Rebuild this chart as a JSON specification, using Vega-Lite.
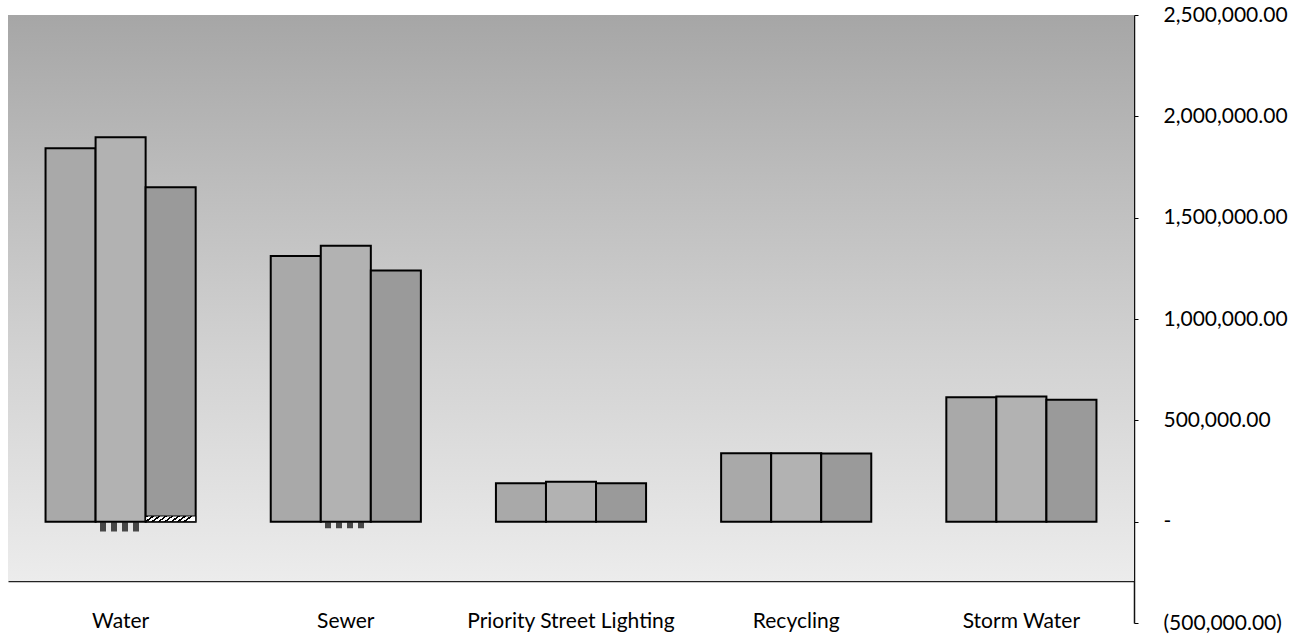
{
  "$schema": "https://vega.github.io/schema/vega-lite/v6.json",
  "autosize": {"type": "none"},
  "width": 1126,
  "height": 608,
  "padding": {"left": 8, "top": 15, "right": 164, "bottom": 12},
  "background": "#ffffff",
  "config": {
    "view": {"stroke": null},
    "font": "Lato",
    "axis": {"labelFont": "Lato", "labelColor": "#000000", "labelFontSize": 21, "labelLimit": 0, "grid": false, "title": null}
  },
  "datasets": {
    "bars": [
      {"category": "Water", "series": "A", "amount": 1843000},
      {"category": "Water", "series": "B", "amount": 1897000},
      {"category": "Water", "series": "C", "amount": 1650000},
      {"category": "Sewer", "series": "A", "amount": 1311000},
      {"category": "Sewer", "series": "B", "amount": 1362000},
      {"category": "Sewer", "series": "C", "amount": 1239000},
      {"category": "Priority Street Lighting", "series": "A", "amount": 189500},
      {"category": "Priority Street Lighting", "series": "B", "amount": 197000},
      {"category": "Priority Street Lighting", "series": "C", "amount": 189500},
      {"category": "Recycling", "series": "A", "amount": 338000},
      {"category": "Recycling", "series": "B", "amount": 338000},
      {"category": "Recycling", "series": "C", "amount": 336000},
      {"category": "Storm Water", "series": "A", "amount": 614000},
      {"category": "Storm Water", "series": "B", "amount": 617000},
      {"category": "Storm Water", "series": "C", "amount": 601000}
    ],
    "hatched": [
      {"category": "Water", "series": "C", "low": 0, "high": 28000}
    ],
    "negatives": [
      {"category": "Water", "series": "B", "low": -48000, "high": 0},
      {"category": "Sewer", "series": "B", "low": -32000, "high": 0}
    ],
    "band": [
      {"top": 2500000, "bottom": -293000}
    ]
  },
  "layer": [
    {
      "data": {"name": "band"},
      "mark": {
        "type": "rect",
        "color": {
          "gradient": "linear", "x1": 0, "y1": 0, "x2": 0, "y2": 1,
          "stops": [
            {"offset": 0, "color": "#a6a6a6"},
            {"offset": 0.3, "color": "#bdbdbd"},
            {"offset": 0.6, "color": "#d2d2d2"},
            {"offset": 0.85, "color": "#e2e2e2"},
            {"offset": 1, "color": "#ececec"}
          ]
        }
      },
      "encoding": {
        "y": {"field": "top", "type": "quantitative", "scale": {"domain": [-500000, 2500000], "nice": false, "zero": false}},
        "y2": {"field": "bottom"}
      }
    },
    {
      "data": {"name": "bars"},
      "mark": {"type": "bar", "stroke": "#000000", "strokeWidth": 2},
      "encoding": {
        "x": {
          "field": "category", "type": "nominal", "sort": null,
          "scale": {"paddingInner": 0.3333, "paddingOuter": 0.1667},
          "axis": {"orient": "bottom", "offset": -42, "ticks": false, "tickSize": 0, "labelPadding": 29, "labelAngle": 0, "domainColor": "#222222", "domainWidth": 1.5}
        },
        "xOffset": {"field": "series", "type": "nominal", "scale": {"paddingInner": 0, "paddingOuter": 0}},
        "y": {
          "field": "amount", "type": "quantitative",
          "scale": {"domain": [-500000, 2500000], "nice": false, "zero": false},
          "axis": {
            "orient": "right",
            "values": [-500000, 0, 500000, 1000000, 1500000, 2000000, 2500000],
            "labelExpr": "datum.value == 0 ? '-' : (datum.value < 0 ? '(' + format(-datum.value, ',.2f') + ')' : format(datum.value, ',.2f'))",
            "labelAlign": "left",
            "labelBaseline": "middle",
            "labelPadding": 25,
            "tickSize": 4,
            "tickColor": "#000000",
            "tickWidth": 1,
            "domainColor": "#111111",
            "domainWidth": 1.5
          }
        },
        "color": {"field": "series", "type": "nominal", "scale": {"domain": ["A", "B", "C"], "range": ["#a9a9a9", "#b2b2b2", "#9a9a9a"]}, "legend": null}
      }
    },
    {
      "data": {"name": "hatched"},
      "mark": {
        "type": "bar", "stroke": "#000000", "strokeWidth": 1,
        "color": {
          "gradient": "linear", "x1": 0, "y1": 0, "x2": 1, "y2": 0.15,
          "stops": [
            {"offset": 0, "color": "#000000"}, {"offset": 0.05, "color": "#000000"}, {"offset": 0.05, "color": "#ffffff"}, {"offset": 0.125, "color": "#ffffff"},
            {"offset": 0.125, "color": "#000000"}, {"offset": 0.175, "color": "#000000"}, {"offset": 0.175, "color": "#ffffff"}, {"offset": 0.25, "color": "#ffffff"},
            {"offset": 0.25, "color": "#000000"}, {"offset": 0.3, "color": "#000000"}, {"offset": 0.3, "color": "#ffffff"}, {"offset": 0.375, "color": "#ffffff"},
            {"offset": 0.375, "color": "#000000"}, {"offset": 0.425, "color": "#000000"}, {"offset": 0.425, "color": "#ffffff"}, {"offset": 0.5, "color": "#ffffff"},
            {"offset": 0.5, "color": "#000000"}, {"offset": 0.55, "color": "#000000"}, {"offset": 0.55, "color": "#ffffff"}, {"offset": 0.625, "color": "#ffffff"},
            {"offset": 0.625, "color": "#000000"}, {"offset": 0.675, "color": "#000000"}, {"offset": 0.675, "color": "#ffffff"}, {"offset": 0.75, "color": "#ffffff"},
            {"offset": 0.75, "color": "#000000"}, {"offset": 0.8, "color": "#000000"}, {"offset": 0.8, "color": "#ffffff"}, {"offset": 0.875, "color": "#ffffff"},
            {"offset": 0.875, "color": "#000000"}, {"offset": 0.925, "color": "#000000"}, {"offset": 0.925, "color": "#ffffff"}, {"offset": 1, "color": "#ffffff"}
          ]
        }
      },
      "encoding": {
        "x": {"field": "category", "type": "nominal", "sort": null},
        "xOffset": {"field": "series", "type": "nominal"},
        "y": {"field": "high", "type": "quantitative"},
        "y2": {"field": "low"}
      }
    },
    {
      "data": {"name": "negatives"},
      "mark": {
        "type": "bar", "strokeWidth": 0,
        "color": {
          "gradient": "linear", "x1": 0, "y1": 0, "x2": 1, "y2": 0,
          "stops": [
            {"offset": 0, "color": "rgba(0,0,0,0)"}, {"offset": 0.08, "color": "rgba(0,0,0,0)"}, {"offset": 0.08, "color": "#111111"}, {"offset": 0.2, "color": "#111111"},
            {"offset": 0.2, "color": "rgba(0,0,0,0)"}, {"offset": 0.3, "color": "rgba(0,0,0,0)"}, {"offset": 0.3, "color": "#111111"}, {"offset": 0.42, "color": "#111111"},
            {"offset": 0.42, "color": "rgba(0,0,0,0)"}, {"offset": 0.52, "color": "rgba(0,0,0,0)"}, {"offset": 0.52, "color": "#111111"}, {"offset": 0.64, "color": "#111111"},
            {"offset": 0.64, "color": "rgba(0,0,0,0)"}, {"offset": 0.74, "color": "rgba(0,0,0,0)"}, {"offset": 0.74, "color": "#111111"}, {"offset": 0.86, "color": "#111111"},
            {"offset": 0.86, "color": "rgba(0,0,0,0)"}, {"offset": 1, "color": "rgba(0,0,0,0)"}
          ]
        },
        "opacity": 0.75
      },
      "encoding": {
        "x": {"field": "category", "type": "nominal", "sort": null},
        "xOffset": {"field": "series", "type": "nominal"},
        "y": {"field": "high", "type": "quantitative"},
        "y2": {"field": "low"}
      }
    }
  ]
}
